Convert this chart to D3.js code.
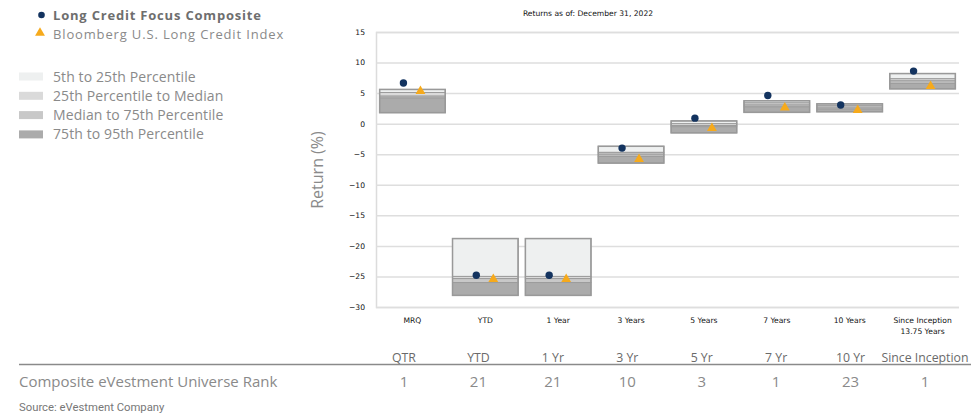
<!DOCTYPE html>
<html>
<head>
<meta charset="utf-8">
<script src="https://cdn.jsdelivr.net/npm/d3@7"></script>
<style>
  body { margin: 0; background: #fff; }
  svg { display: block; }
</style>
</head>
<body>
<div id="chart"></div>
<script>
// categories and values
const categories = ["MRQ", "YTD", "1 Year", "3 Years", "5 Years", "7 Years", "10 Years", "Since Inception"];
const catSub = ["", "", "", "", "", "", "", "13.75 Years"];

const p5  = [5.6, -18.8, -18.8, -3.7, 0.45, 3.75, 3.25, 8.2];
const p25 = [5.1, -25.0, -25.0, -4.7, 0.0, 3.4, 3.0, 7.35];
const p50 = [4.5, -25.35, -25.35, -5.0, -0.3, 3.05, 2.7, 7.0];
const p75 = [4.2, -26.0, -26.0, -5.35, -0.5, 2.75, 2.4, 6.6];
const p95 = [1.8, -28.1, -28.1, -6.45, -1.5, 1.85, 1.95, 5.7];

const composite = [6.65, -24.8, -24.8, -4.0, 0.9, 4.6, 3.05, 8.6];
const benchmark = [5.3, -25.45, -25.45, -5.8, -0.75, 2.6, 2.2, 6.15];

const yTicks = [15, 10, 5, 0, -5, -10, -15, -20, -25, -30];

const tableHeads = ["QTR", "YTD", "1 Yr", "3 Yr", "5 Yr", "7 Yr", "10 Yr", "Since Inception"];
const ranks = [1, 21, 21, 10, 3, 1, 23, 1];

const bandNames = ["5th to 25th Percentile", "25th Percentile to Median", "Median to 75th Percentile", "75th to 95th Percentile"];
const bandColors = ["#eef0f0", "#dadada", "#c8c8c8", "#ababab"];

const W = 971, H = 415;
const svg = d3.select("#chart").append("svg")
    .attr("width", W).attr("height", H);

const sans = "'Open Sans', 'DejaVu Sans', sans-serif";
const tah = "Tahoma, 'DejaVu Sans', Verdana, sans-serif";

// scales
const x = d3.scaleBand()
    .domain(categories)
    .range([376, 959])
    .paddingInner(0.1)
    .paddingOuter(0.05);

const y = d3.scaleLinear()
    .domain([-30, 15])
    .range([307, 32]);

// title
svg.append("text")
    .attr("x", 588).attr("y", 16)
    .attr("text-anchor", "middle")
    .style("font-family", tah).style("font-size", "7.6px").attr("fill", "#111")
    .text("Returns as of: December 31, 2022");

// grid + y axis
const yAxis = svg.append("g")
    .attr("transform", "translate(376,0)")
    .call(d3.axisLeft(y).tickValues(yTicks).tickSize(-583).tickPadding(11));
yAxis.select(".domain").attr("stroke", "#dcdcdc").attr("stroke-width", 1.5);
yAxis.selectAll(".tick line").attr("stroke", "#dedede").attr("stroke-width", 1.5);
yAxis.selectAll(".tick text")
    .style("font-family", tah).style("font-size", "7.6px").attr("fill", "#111");

// x labels
svg.append("g").selectAll("text")
    .data(categories)
    .join("text")
    .attr("x", d => x(d) + x.bandwidth() / 2)
    .attr("y", 323)
    .attr("text-anchor", "middle")
    .style("font-family", tah).style("font-size", "7.6px").attr("fill", "#111")
    .text(d => d);
svg.append("g").selectAll("text")
    .data(catSub)
    .join("text")
    .attr("x", (d, i) => x(categories[i]) + x.bandwidth() / 2)
    .attr("y", 334)
    .attr("text-anchor", "middle")
    .style("font-family", tah).style("font-size", "7.6px").attr("fill", "#111")
    .text(d => d);

// y title
svg.append("text")
    .attr("transform", "translate(323,170) rotate(-90)")
    .attr("text-anchor", "middle")
    .style("font-family", sans).style("font-size", "16px").attr("fill", "#8a8a8a")
    .text("Return (%)");

// percentile boxes
const bounds = [p5, p25, p50, p75, p95];
const boxes = svg.append("g");
categories.forEach((c, i) => {
  for (let b = 0; b < 4; b++) {
    const top = bounds[b][i], bot = bounds[b + 1][i];
    boxes.append("rect")
      .attr("x", x(c))
      .attr("y", y(top))
      .attr("width", x.bandwidth())
      .attr("height", y(bot) - y(top))
      .attr("fill", bandColors[b])
      .attr("stroke", "#9c9c9c")
      .attr("stroke-width", 1);
  }
  boxes.append("rect")
    .attr("x", x(c))
    .attr("y", y(p5[i]))
    .attr("width", x.bandwidth())
    .attr("height", y(p95[i]) - y(p5[i]))
    .attr("fill", "none")
    .attr("stroke", "#999")
    .attr("stroke-width", 1.5);
});

// markers
svg.append("g").selectAll("path")
    .data(benchmark)
    .join("path")
    .attr("d", d3.symbol(d3.symbolTriangle, 42))
    .attr("transform", (d, i) => `translate(${x(categories[i]) + x.bandwidth() / 2 + 8},${y(d)})`)
    .attr("fill", "#f6aa1c");

svg.append("g").selectAll("circle")
    .data(composite)
    .join("circle")
    .attr("cx", (d, i) => x(categories[i]) + x.bandwidth() / 2 - 9)
    .attr("cy", d => y(d))
    .attr("r", 3.7)
    .attr("fill", "#13335f");

// legend
const lg = svg.append("g");
lg.append("circle").attr("cx", 41.5).attr("cy", 15).attr("r", 3.3).attr("fill", "#13335f");
lg.append("text").attr("x", 53).attr("y", 20)
    .style("font-family", sans).style("font-size", "13px").style("font-weight", "bold")
    .style("letter-spacing", "0.8px")
    .attr("fill", "#6e6e6e").text("Long Credit Focus Composite");
lg.append("path")
    .attr("d", d3.symbol(d3.symbolTriangle, 42))
    .attr("transform", "translate(40,33)")
    .attr("fill", "#f6aa1c");
lg.append("text").attr("x", 53).attr("y", 38.5)
    .style("font-family", sans).style("font-size", "13px")
    .style("letter-spacing", "0.85px")
    .attr("fill", "#8a8a8a").text("Bloomberg U.S. Long Credit Index");

bandNames.forEach((n, i) => {
  const cy = 76.5 + i * 19.3;
  lg.append("rect").attr("x", 19).attr("y", cy - 4).attr("width", 24).attr("height", 8)
    .attr("fill", bandColors[i]);
  lg.append("text").attr("x", 53).attr("y", cy + 5)
    .style("font-family", sans).style("font-size", "14px")
    .style("letter-spacing", "0.1px")
    .attr("fill", "#8a8a8a").text(n);
});

// rank table
const tx = d3.scalePoint().domain(tableHeads).range([404, 925]);
svg.append("g").selectAll("text")
    .data(tableHeads)
    .join("text")
    .attr("x", d => tx(d)).attr("y", 362)
    .attr("text-anchor", "middle")
    .style("font-family", sans).style("font-size", "12.3px")
    .attr("fill", "#6a6a6a")
    .text(d => d);
svg.append("line")
    .attr("x1", 19).attr("x2", 971).attr("y1", 364.5).attr("y2", 364.5)
    .attr("stroke", "#8a8a8a").attr("stroke-width", 1.5);
svg.append("text").attr("x", 19).attr("y", 387)
    .style("font-family", sans).style("font-size", "15px")
    .attr("fill", "#8a8a8a").text("Composite eVestment Universe Rank");
svg.append("g").selectAll("text")
    .data(ranks)
    .join("text")
    .attr("x", (d, i) => tx(tableHeads[i])).attr("y", 387)
    .attr("text-anchor", "middle")
    .style("font-family", sans).style("font-size", "15px")
    .attr("fill", "#8a8a8a")
    .text(d => d);
svg.append("text").attr("x", 19).attr("y", 411)
    .style("font-family", "'Liberation Sans Narrow', 'Roboto', sans-serif").style("font-size", "11.3px")
    .attr("fill", "#777").text("Source: eVestment Company");
</script>
</body>
</html>
